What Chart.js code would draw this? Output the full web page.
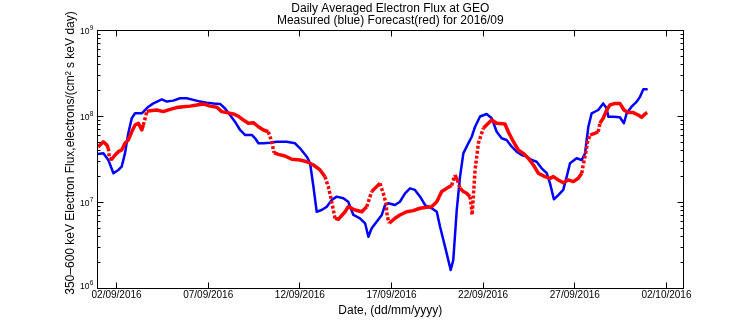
<!DOCTYPE html>
<html>
<head>
<meta charset="utf-8">
<script src="https://cdn.jsdelivr.net/npm/chart.js@4.4.1/dist/chart.umd.min.js"></script>
<style>
  html, body { margin: 0; padding: 0; background: #ffffff; }
  canvas { display: block; }
</style>
</head>
<body>
<canvas id="flux" width="756" height="324"></canvas>
<script>
// Text
const titleLines = ['Daily Averaged Electron Flux at GEO', 'Measured (blue) Forecast(red) for 2016/09'];
const yAxisTitle = '350\u2013600 keV Electron Flux,electrons/(cm\u00B2 s keV day)';
const xAxisTitle = 'Date, (dd/mm/yyyy)';

// Date axis: values are days counted from 01/09/2016 00:00
const tickDays = [1, 6, 11, 16, 21, 26, 31];
const tickLabels = ['02/09/2016', '07/09/2016', '12/09/2016', '17/09/2016', '22/09/2016', '27/09/2016', '02/10/2016'];

// Flux axis (log): labels are 10 raised to these exponents
const fluxTicks = [1e6, 1e7, 1e8, 1e9];
const fluxTickExponents = ['6', '7', '8', '9'];

// Measured daily averaged flux (blue)
const measuredDays = [0, 0.28, 0.55, 0.83, 1.10, 1.28, 1.46, 1.64, 1.83, 2.01, 2.38, 2.56, 2.74, 3.01, 3.47, 3.74,
  4.10, 4.46, 4.83, 5.19, 5.56, 5.92, 6.28, 6.65, 6.92, 7.19, 7.46, 7.74, 8.01, 8.38, 8.56, 8.74, 9.01, 9.37, 9.74,
  10.28, 10.74, 11.01, 11.38, 11.56, 11.74, 11.92, 12.19, 12.47, 12.74, 13.01, 13.37, 13.64, 13.92, 14.28, 14.56,
  14.74, 14.92, 15.19, 15.47, 15.65, 15.83, 16.19, 16.46, 16.74, 17.01, 17.28, 17.56, 17.83, 18.19, 18.47, 18.65,
  18.83, 19.01, 19.23, 19.37, 19.56, 19.74, 19.92, 20.19, 20.38, 20.56, 20.83, 21.19, 21.47, 21.74, 22.01, 22.28,
  22.56, 22.83, 23.10, 23.38, 23.65, 23.92, 24.19, 24.47, 24.65, 24.86, 25.10, 25.37, 25.56, 25.74, 26.10, 26.38,
  26.56, 26.74, 26.92, 27.28, 27.55, 27.74, 27.83, 28.10, 28.46, 28.68, 28.83, 29.10, 29.38, 29.56, 29.74, 29.92];
const measuredFlux = [3.66e7, 3.73e7, 3.12e7, 2.19e7, 2.39e7, 2.61e7, 3.73e7, 6.38e7, 9.53e7, 1.09e8, 1.09e8, 1.19e8,
  1.30e8, 1.42e8, 1.58e8, 1.49e8, 1.53e8, 1.63e8, 1.63e8, 1.56e8, 1.49e8, 1.45e8, 1.42e8, 1.40e8, 1.24e8, 1.04e8,
  8.71e7, 6.97e7, 6.10e7, 6.10e7, 5.58e7, 4.88e7, 4.88e7, 4.95e7, 5.09e7, 5.09e7, 4.88e7, 4.27e7, 3.41e7, 2.86e7,
  1.53e7, 7.81e6, 8.18e6, 8.94e6, 1.07e7, 1.17e7, 1.12e7, 1.02e7, 7.16e6, 6.55e6, 5.73e6, 4.00e6, 5.01e6, 5.98e6,
  7.16e6, 9.35e6, 9.79e6, 9.35e6, 1.02e7, 1.28e7, 1.46e7, 1.40e7, 1.17e7, 9.35e6, 8.57e6, 7.81e6, 5.23e6, 3.66e6,
  2.56e6, 1.64e6, 2.14e6, 8.18e6, 2.00e7, 3.73e7, 4.88e7, 5.82e7, 7.60e7, 1.00e8, 1.07e8, 9.53e7, 6.65e7, 5.58e7,
  5.33e7, 4.46e7, 3.90e7, 3.57e7, 3.41e7, 3.12e7, 2.98e7, 2.50e7, 2.19e7, 1.67e7, 1.09e7, 1.22e7, 1.40e7, 2.00e7,
  2.86e7, 3.27e7, 3.12e7, 3.73e7, 7.60e7, 1.09e8, 1.19e8, 1.42e8, 1.24e8, 9.95e7, 9.95e7, 9.79e7, 8.34e7, 1.09e8,
  1.30e8, 1.49e8, 1.70e8, 2.07e8, 2.07e8];

// Forecast flux (red)
const forecastDays = [0, 0.10, 0.28, 0.47, 0.55, 0.61, 0.74, 0.92, 1.10, 1.28, 1.46, 1.64, 1.83, 2.01, 2.19, 2.38,
  2.46, 2.56, 2.65, 2.83, 3.19, 3.55, 3.92, 4.28, 4.64, 5.01, 5.38, 5.74, 6.10, 6.47, 6.74, 7.01, 7.37, 7.64, 7.92,
  8.19, 8.46, 8.74, 9.01, 9.28, 9.47, 9.59, 9.83, 10.19, 10.56, 11.01, 11.38, 11.74, 12.10, 12.37, 12.55, 12.68,
  12.79, 12.92, 13.10, 13.47, 13.64, 14.01, 14.38, 14.65, 14.92, 15.19, 15.37, 15.55, 15.70, 15.77, 15.88, 16.19,
  16.46, 16.83, 17.19, 17.56, 17.92, 18.19, 18.47, 18.74, 19.01, 19.28, 19.46, 19.59, 19.74, 19.92, 20.10, 20.28,
  20.36, 20.40, 20.56, 20.74, 21.01, 21.28, 21.47, 21.74, 22.19, 22.37, 22.65, 22.92, 23.19, 23.46, 23.74, 24.01,
  24.37, 24.65, 24.83, 25.10, 25.37, 25.64, 25.92, 26.19, 26.38, 26.46, 26.61, 26.68, 26.83, 27.10, 27.28, 27.37,
  27.55, 27.74, 27.92, 28.19, 28.46, 28.68, 28.92, 29.19, 29.46, 29.65, 29.83, 29.95];
const forecastFlux = [4.39e7, 4.67e7, 5.09e7, 4.67e7, 4.27e7, 3.27e7, 3.18e7, 3.57e7, 3.90e7, 4.08e7, 4.88e7, 5.33e7,
  6.65e7, 7.96e7, 8.34e7, 6.97e7, 7.96e7, 9.53e7, 1.14e8, 1.17e8, 1.19e8, 1.14e8, 1.21e8, 1.27e8, 1.30e8, 1.32e8,
  1.36e8, 1.40e8, 1.32e8, 1.28e8, 1.14e8, 1.11e8, 1.07e8, 1.01e8, 9.10e7, 8.34e7, 8.47e7, 7.60e7, 6.97e7, 6.65e7,
  5.09e7, 3.79e7, 3.63e7, 3.47e7, 3.18e7, 3.12e7, 2.98e7, 2.73e7, 2.39e7, 2.00e7, 1.53e7, 1.17e7, 8.94e6, 6.55e6,
  6.38e6, 7.81e6, 8.94e6, 8.18e6, 7.81e6, 8.94e6, 1.34e7, 1.53e7, 1.67e7, 1.28e7, 9.79e6, 6.84e6, 5.73e6, 6.55e6,
  7.16e6, 7.81e6, 8.04e6, 8.57e6, 8.79e6, 8.94e6, 1.02e7, 1.34e7, 1.46e7, 1.58e7, 2.09e7, 1.83e7, 1.46e7, 1.34e7,
  1.28e7, 1.17e7, 8.94e6, 7.16e6, 2.39e7, 4.88e7, 7.30e7, 8.34e7, 9.10e7, 8.34e7, 8.19e7, 6.65e7, 5.09e7, 4.08e7,
  3.73e7, 3.27e7, 2.73e7, 2.19e7, 2.00e7, 1.91e7, 2.00e7, 1.83e7, 1.70e7, 1.83e7, 1.75e7, 1.91e7, 2.19e7, 2.73e7,
  3.90e7, 4.88e7, 6.10e7, 6.38e7, 6.65e7, 8.34e7, 9.53e7, 1.19e8, 1.36e8, 1.42e8, 1.42e8, 1.19e8, 1.11e8, 1.11e8,
  1.04e8, 9.79e7, 1.07e8, 1.11e8];

const FONT = "'Liberation Sans', Arial, Helvetica, sans-serif";
const toPoints = (xs, ys) => xs.map((d, i) => ({ x: d, y: ys[i] }));

// Box, inward tick marks, power-of-ten labels, title and rotated y label
const framePlugin = {
  id: 'frame',
  afterDraw(chart) {
    const { ctx, chartArea: a, scales } = chart;
    const x = scales.x, y = scales.y;
    const snap = v => Math.floor(v) + 0.5;
    const L = snap(a.left), R = snap(a.right), T = snap(a.top), B = snap(a.bottom);
    ctx.save();
    ctx.strokeStyle = '#000';
    ctx.lineWidth = 1;
    ctx.strokeRect(L, T, R - L, B - T);
    ctx.beginPath();
    tickDays.forEach(d => {
      const px = snap(x.getPixelForValue(d));
      ctx.moveTo(px, B); ctx.lineTo(px, B - 6);
      ctx.moveTo(px, T); ctx.lineTo(px, T + 6);
    });
    for (let e = 6; e <= 9; e++) {
      for (let m = 1; m <= 9; m++) {
        const v = m * Math.pow(10, e);
        if (v > 1e9) break;
        const py = snap(y.getPixelForValue(v));
        const len = m === 1 ? 6 : 3;
        ctx.moveTo(L, py); ctx.lineTo(L + len, py);
        ctx.moveTo(R, py); ctx.lineTo(R - len, py);
      }
    }
    ctx.stroke();

    ctx.fillStyle = '#000';
    ctx.textBaseline = 'alphabetic';

    // y tick labels: "10" with a raised exponent
    fluxTicks.forEach((v, i) => {
      const py = y.getPixelForValue(v);
      const base = Math.min(py + 3, a.bottom);
      const right = a.left - 4;
      ctx.font = '6.5px ' + FONT;
      ctx.textAlign = 'right';
      const ew = ctx.measureText(fluxTickExponents[i]).width;
      ctx.fillText(fluxTickExponents[i], right, base - 3.5);
      ctx.font = '8.5px ' + FONT;
      ctx.fillText('10', right - ew - 0.3, base);
    });

    ctx.font = '12px ' + FONT;
    ctx.textAlign = 'center';
    const cx = (a.left + a.right) / 2;
    ctx.fillText(titleLines[0], cx, 11.5);
    ctx.fillText(titleLines[1], cx, 23.5);

    ctx.translate(74, 153);
    ctx.rotate(-Math.PI / 2);
    ctx.fillText(yAxisTitle, 0, 0);
    ctx.restore();
  }
};

new Chart(document.getElementById('flux'), {
  type: 'line',
  data: {
    datasets: [
      {
        label: 'Forecast',
        data: toPoints(forecastDays, forecastFlux),
        borderColor: '#ff0000',
        borderWidth: 3.5,
        borderCapStyle: 'butt',
        borderJoinStyle: 'round',
        pointRadius: 0,
        order: 0,
        segment: {
          // steep hourly jumps show up as separate dots
          borderDash: c => {
            const dx = Math.abs(c.p1.x - c.p0.x);
            const dy = Math.abs(c.p1.y - c.p0.y);
            return (dy > 2.5 * dx && dy > 5) ? [3, 2] : undefined;
          }
        }
      },
      {
        label: 'Measured',
        data: toPoints(measuredDays, measuredFlux),
        borderColor: '#0000ff',
        borderWidth: 2.5,
        borderJoinStyle: 'round',
        borderCapStyle: 'round',
        pointRadius: 0,
        order: 1
      }
    ]
  },
  options: {
    responsive: false,
    devicePixelRatio: 1,
    animation: false,
    events: [],
    layout: { padding: { left: 0, right: 72.7, top: 30.5, bottom: 0 } },
    plugins: { legend: { display: false }, tooltip: { enabled: false }, title: { display: false } },
    scales: {
      x: {
        type: 'linear',
        min: -0.05,
        max: 31.92,
        afterFit: s => { s.height = 35.5; },
        afterBuildTicks: s => { s.ticks = tickDays.map(v => ({ value: v })); },
        grid: { display: false, drawTicks: false },
        border: { display: false },
        ticks: {
          autoSkip: false,
          maxRotation: 0,
          padding: 1,
          color: '#000',
          font: { family: FONT, size: 10 },
          callback: v => { const i = tickDays.indexOf(v); return i >= 0 ? tickLabels[i] : ''; }
        },
        title: {
          display: true,
          text: xAxisTitle,
          color: '#000',
          font: { family: FONT, size: 12 },
          padding: { top: 0, bottom: 6.3 }
        }
      },
      y: {
        type: 'logarithmic',
        min: 1e6,
        max: 1e9,
        afterFit: s => { s.width = 97.3; },
        afterBuildTicks: s => { s.ticks = fluxTicks.map(v => ({ value: v })); },
        grid: { display: false, drawTicks: false },
        border: { display: false },
        ticks: { display: false }
      }
    }
  },
  plugins: [framePlugin]
});
</script>
</body>
</html>
